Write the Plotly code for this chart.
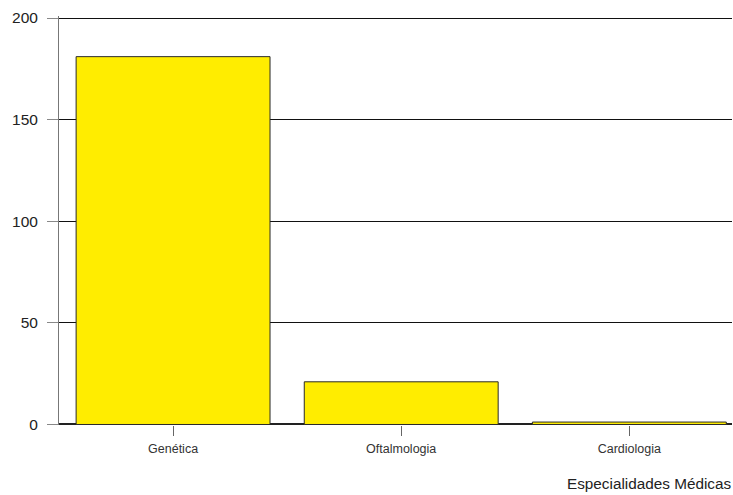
import plotly.graph_objects as go

categories = ["Genética", "Oftalmologia", "Cardiologia"]
values = [181, 21, 1.2]
y_ticks = [0, 50, 100, 150, 200]

fig = go.Figure()
fig.add_trace(go.Bar(
    x=categories, y=values,
    marker=dict(color="#FFED00", line=dict(color="#2a2a2a", width=1)),
    width=0.85,
))

fig.update_layout(
    width=733, height=495,
    margin=dict(l=59, r=1, t=16, b=70),
    plot_bgcolor="white", paper_bgcolor="white",
    font=dict(family="Liberation Sans, Arial, sans-serif", color="#222"),
    showlegend=False,
    xaxis=dict(
        showgrid=False, showline=False, zeroline=False,
        ticks="outside", ticklen=10, tickcolor="#666", tickwidth=1,
        tickfont=dict(size=12.5, color="#333"),
        ticklabelstandoff=2,
        range=[-0.5, 2.45],
    ),
    yaxis=dict(
        range=[-0.25, 201], tickvals=y_ticks,
        showgrid=True, gridcolor="#111", gridwidth=1.2,
        showline=True, linecolor="#777", linewidth=1,
        ticks="outside", ticklen=11, tickcolor="#888", tickwidth=1,
        tickfont=dict(size=15.5, color="#222"),
        ticklabelstandoff=6,
        zeroline=True, zerolinecolor="#222", zerolinewidth=2,
    ),
    annotations=[dict(text="Especialidades Médicas", xref="paper", yref="paper",
                      x=1, y=0, xanchor="right", yanchor="top", yshift=-48,
                      xshift=1, showarrow=False,
                      font=dict(size=15.3, color="#222"))],
)

fig.write_html("out.html", config={"displayModeBar": False},
               post_script="document.body.style.margin='0';")
